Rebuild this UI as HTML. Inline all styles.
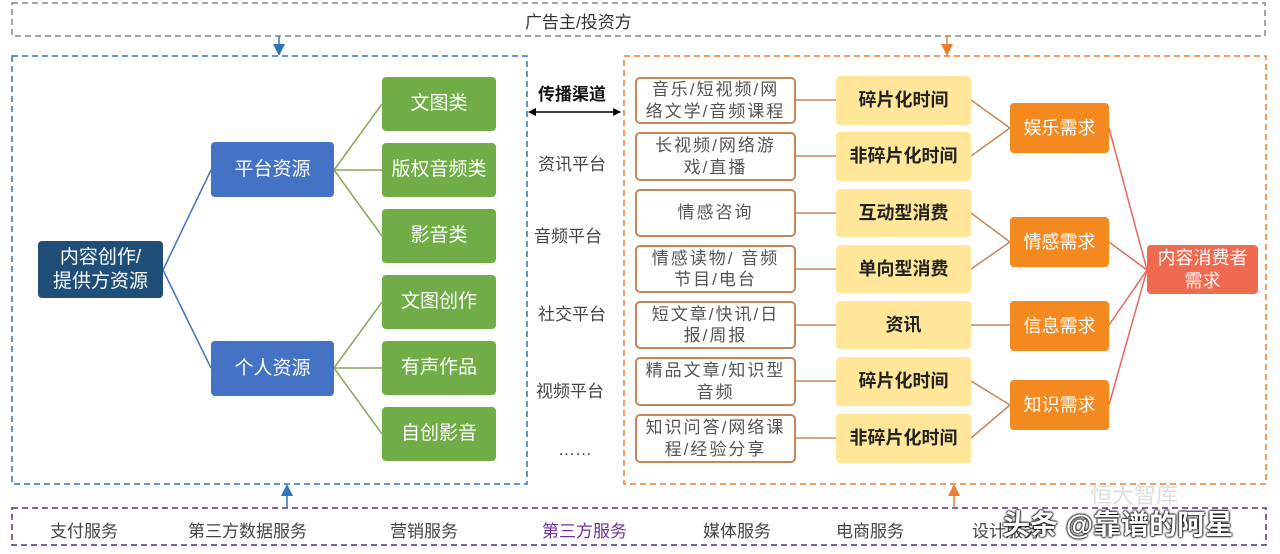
<!DOCTYPE html>
<html><head><meta charset="utf-8"><style>
body{margin:0;width:1280px;height:554px;background:#fff;position:relative;overflow:hidden;font-family:"Liberation Sans","Noto Sans CJK SC",sans-serif}
.b{position:absolute;display:flex;align-items:center;justify-content:center;text-align:center;box-sizing:border-box;line-height:1.25}
.g{background:#70ad47;color:#fff;font-size:19px;border-radius:4px;left:382px;width:114px;height:54px}
.bl{background:#4472c4;color:#fff;font-size:19px;border-radius:4px;left:211px;width:123px;height:55px}
.w{left:635px;width:161px;border:2px solid #c5875a;border-radius:5px;background:#fff;color:#555;font-size:17px;padding:0 6px;letter-spacing:2px}
.y{left:836px;width:135px;background:#ffe699;color:#222;font-weight:bold;font-size:18px;border-radius:4px}
.o{left:1010px;width:99px;height:50px;background:#f4891f;color:#fff;font-size:18px;border-radius:4px}
.t{position:absolute;font-size:17px;color:#444}
</style></head><body>
<svg width="1280" height="554" style="position:absolute;left:0;top:0">
<defs>
<marker id="ab" markerWidth="8" markerHeight="8" refX="4" refY="4" orient="auto"><path d="M0,0L8,4L0,8z" fill="#2e75b6"/></marker>
<marker id="ao" markerWidth="8" markerHeight="8" refX="4" refY="4" orient="auto"><path d="M0,0L8,4L0,8z" fill="#ed7d31"/></marker>
<marker id="ak" markerWidth="8" markerHeight="8" refX="7" refY="4" orient="auto-start-reverse" markerUnits="userSpaceOnUse"><path d="M0,0L8,4L0,8z" fill="#000"/></marker>
</defs>
<rect x="12" y="3" width="1253" height="33" fill="none" stroke="#888" stroke-width="1.5" stroke-dasharray="6,4"/>
<rect x="12" y="56" width="515" height="428" fill="none" stroke="#2e75b6" stroke-width="1.5" stroke-dasharray="6,4"/>
<rect x="624" y="56" width="642" height="428" fill="none" stroke="#ed7d31" stroke-width="1.5" stroke-dasharray="6,4"/>
<rect x="12" y="508" width="1254" height="37" fill="none" stroke="#5b2c83" stroke-width="1.5" stroke-dasharray="6,4"/>
<line x1="279" y1="36" x2="279" y2="50" stroke="#2e75b6" stroke-width="1.5" marker-end="url(#ab)"/>
<line x1="947" y1="36" x2="947" y2="50" stroke="#ed7d31" stroke-width="1.5" marker-end="url(#ao)"/>
<line x1="287" y1="508" x2="287" y2="490" stroke="#2e75b6" stroke-width="1.5" marker-end="url(#ab)"/>
<line x1="954" y1="508" x2="954" y2="490" stroke="#ed7d31" stroke-width="1.5" marker-end="url(#ao)"/>
<line x1="529" y1="112" x2="620" y2="112" stroke="#000" stroke-width="1.5" marker-end="url(#ak)" marker-start="url(#ak)"/>
<g stroke="#4472c4" stroke-width="1.5"><line x1="163" y1="270" x2="211" y2="170"/><line x1="163" y1="270" x2="211" y2="368"/></g>
<g stroke="#8aa65a" stroke-width="1.5">
<line x1="334" y1="170" x2="382" y2="104"/><line x1="334" y1="170" x2="382" y2="170"/><line x1="334" y1="170" x2="382" y2="236"/>
<line x1="334" y1="368" x2="382" y2="302"/><line x1="334" y1="368" x2="382" y2="368"/><line x1="334" y1="368" x2="382" y2="434"/></g>
<g stroke="#c5875a" stroke-width="1.5">
<line x1="796" y1="100" x2="836" y2="100"/><line x1="796" y1="156" x2="836" y2="156"/><line x1="796" y1="213" x2="836" y2="213"/><line x1="796" y1="269" x2="836" y2="269"/><line x1="796" y1="325" x2="836" y2="325"/><line x1="796" y1="381" x2="836" y2="381"/><line x1="796" y1="438" x2="836" y2="438"/>
<line x1="971" y1="100" x2="1010" y2="128"/><line x1="971" y1="156" x2="1010" y2="128"/>
<line x1="971" y1="213" x2="1010" y2="242"/><line x1="971" y1="269" x2="1010" y2="242"/>
<line x1="971" y1="325" x2="1010" y2="325"/>
<line x1="971" y1="381" x2="1010" y2="405"/><line x1="971" y1="438" x2="1010" y2="405"/></g>
<g stroke="#e8685a" stroke-width="1.5">
<line x1="1109" y1="128" x2="1147" y2="270"/><line x1="1109" y1="242" x2="1147" y2="270"/><line x1="1109" y1="325" x2="1147" y2="270"/><line x1="1109" y1="405" x2="1147" y2="270"/></g>
</svg>
<div class="t" style="left:525px;top:8px;color:#333">广告主/投资方</div>
<div class="b" style="left:38px;top:241px;width:125px;height:57px;background:#1f4e79;color:#fff;font-size:19px;border-radius:4px">内容创作/<br>提供方资源</div>
<div class="b bl" style="top:142px">平台资源</div>
<div class="b bl" style="top:341px">个人资源</div>
<div class="b g" style="top:77px">文图类</div>
<div class="b g" style="top:143px">版权音频类</div>
<div class="b g" style="top:209px">影音类</div>
<div class="b g" style="top:275px">文图创作</div>
<div class="b g" style="top:341px">有声作品</div>
<div class="b g" style="top:407px">自创影音</div>
<div class="t" style="left:538px;top:80px;font-weight:bold;color:#111">传播渠道</div>
<div class="t" style="left:538px;top:150px">资讯平台</div>
<div class="t" style="left:534px;top:222px">音频平台</div>
<div class="t" style="left:538px;top:300px">社交平台</div>
<div class="t" style="left:536px;top:377px">视频平台</div>
<div class="t" style="left:558px;top:440px">……</div>
<div class="b w" style="top:77px;height:47px">音乐/短视频/网络文学/音频课程</div>
<div class="b w" style="top:132px;height:49px">长视频/网络游戏/直播</div>
<div class="b w" style="top:189px;height:48px">情感咨询</div>
<div class="b w" style="top:245px;height:48px">情感读物/ 音频节目/电台</div>
<div class="b w" style="top:301px;height:48px">短文章/快讯/日报/周报</div>
<div class="b w" style="top:357px;height:49px">精品文章/知识型音频</div>
<div class="b w" style="top:414px;height:49px">知识问答/网络课程/经验分享</div>
<div class="b y" style="top:76px;height:49px">碎片化时间</div>
<div class="b y" style="top:132px;height:49px">非碎片化时间</div>
<div class="b y" style="top:189px;height:48px">互动型消费</div>
<div class="b y" style="top:245px;height:48px">单向型消费</div>
<div class="b y" style="top:301px;height:48px">资讯</div>
<div class="b y" style="top:357px;height:49px">碎片化时间</div>
<div class="b y" style="top:414px;height:49px">非碎片化时间</div>
<div class="b o" style="top:103px">娱乐需求</div>
<div class="b o" style="top:217px">情感需求</div>
<div class="b o" style="top:301px">信息需求</div>
<div class="b o" style="top:380px">知识需求</div>
<div class="b" style="left:1147px;top:245px;width:111px;height:49px;background:#ef6a50;color:#fff;font-size:18px;border-radius:4px">内容消费者<br>需求</div>
<div class="t" style="left:50px;top:517px">支付服务</div>
<div class="t" style="left:188px;top:517px">第三方数据服务</div>
<div class="t" style="left:390px;top:517px">营销服务</div>
<div class="t" style="left:542px;top:517px;color:#7030a0">第三方服务</div>
<div class="t" style="left:703px;top:517px">媒体服务</div>
<div class="t" style="left:836px;top:517px">电商服务</div>
<div class="t" style="left:972px;top:517px">设计服务</div>
<div class="t" style="left:1090px;top:478px;color:#ddd;font-size:22px">恒大智库</div>
<div class="t" style="left:1002px;top:503px;color:#fff;font-size:28px;font-weight:bold;text-shadow:0 0 2px #000,0 0 2px #000,0 0 2px #000">头条 @靠谱的阿星</div>
</body></html>
